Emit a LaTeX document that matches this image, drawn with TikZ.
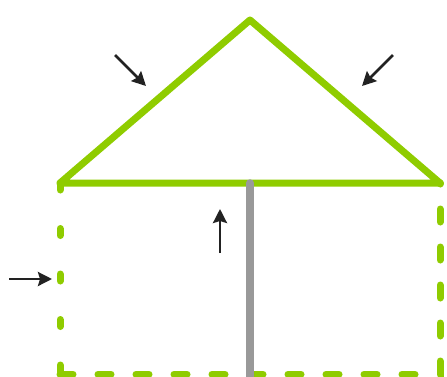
\documentclass[tikz,border=0pt]{standalone}
\usetikzlibrary{arrows.meta}
\definecolor{cgreen}{HTML}{8FCC00}
\definecolor{cgrey}{HTML}{999999}
\definecolor{cdark}{HTML}{222222}
\tikzset{
  roof/.style={draw=cgreen, line width=7pt, line join=round, line cap=round},
  wall/.style={draw=cgreen, line width=7pt, line cap=round, dash pattern=on #1},
  pole/.style={draw=cgrey, line width=7.5pt, line cap=round},
  push/.style={-{Stealth[length=14pt, width=14pt, inset=2pt]}, draw=cdark, line width=2.6pt},
}
\begin{document}
\begin{tikzpicture}[x=1pt, y=-1pt]
  \useasboundingbox (0,0) rectangle (447,376);
  % corners
  \coordinate (apex) at (250,20);
  \coordinate (baseL) at (60,183);
  \coordinate (baseR) at (440,183);
  \coordinate (baseM) at (250,183);
  \coordinate (footL) at (60,374);
  \coordinate (footR) at (440,374);
  \coordinate (footM) at (250,380);
  % dashed box under the roof
  \draw[wall={7pt off 38.5pt}] (baseL) -- (footL);
  \draw[wall={13pt off 25pt}] (footL) -- (footR) -- (baseR);
  % roof
  \draw[roof] (baseL) -- (apex) -- (baseR) -- cycle;
  \draw[pole] (baseM) -- (footM);
  % forces
  \coordinate (a1) at (115,55);  \coordinate (b1) at (146,86);
  \coordinate (a2) at (393,55);  \coordinate (b2) at (362,86);
  \coordinate (a3) at (220,253); \coordinate (b3) at (220,209);
  \coordinate (a4) at (9,279);   \coordinate (b4) at (52,279);
  \foreach \i in {1,...,4} \draw[push] (a\i) -- (b\i);
\end{tikzpicture}
\end{document}
